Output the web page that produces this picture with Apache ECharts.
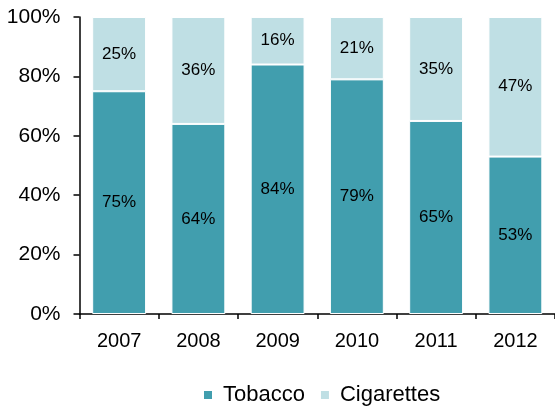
<!DOCTYPE html>
<html><head><meta charset="utf-8">
<script src="https://cdn.jsdelivr.net/npm/echarts@6/dist/echarts.min.js"></script>
<style>html,body{margin:0;padding:0;background:#fff}#c{width:555px;height:407px}</style>
</head><body><div id="c"></div>
<script>
const categories = ['2007','2008','2009','2010','2011','2012'];
const tobacco = [75,64,84,79,65,53];
const cigarettes = [25,36,16,21,35,47];
const yTicks = [0,20,40,60,80,100];

const chart = echarts.init(document.getElementById('c'));
const font = 'Liberation Sans, Arial, sans-serif';
chart.setOption({
  animation:false,
  grid:{left:79.5,right:0,top:17,bottom:93,containLabel:false},
  xAxis:{type:'category',data:categories,
    axisLine:{lineStyle:{color:'#000',width:1.5}},
    axisTick:{show:true,length:5,lineStyle:{color:'#000',width:1.5}},
    axisLabel:{color:'#000',fontSize:20,fontFamily:font,margin:17}},
  yAxis:{type:'value',min:0,max:100,interval:20,
    axisLine:{show:true,lineStyle:{color:'#000',width:1.5}},
    axisTick:{show:true,length:6,lineStyle:{color:'#000',width:1.5}},
    splitLine:{show:false},
    axisLabel:{color:'#000',fontSize:21,fontFamily:font,margin:19,formatter:v=>v+'%'}},
  legend:{top:384,left:202,itemWidth:10,itemHeight:10,itemGap:14,icon:'rect',padding:0,
    textStyle:{fontSize:22,lineHeight:22,fontFamily:font,color:'#000',padding:[0,0,0,5]},
    data:['Tobacco','Cigarettes']},
  series:[
    {name:'Tobacco',type:'bar',stack:'a',data:tobacco,barWidth:'68%',
     itemStyle:{color:'#419EAE',borderColor:'#fff',borderWidth:1},
     label:{show:true,position:'inside',formatter:'{c}%',color:'#000',fontSize:17,fontFamily:font}},
    {name:'Cigarettes',type:'bar',stack:'a',data:cigarettes,barWidth:'68%',
     itemStyle:{color:'#BFDFE4',borderColor:'#fff',borderWidth:1},
     label:{show:true,position:'inside',formatter:'{c}%',color:'#000',fontSize:17,fontFamily:font}}
  ]
});
</script></body></html>
